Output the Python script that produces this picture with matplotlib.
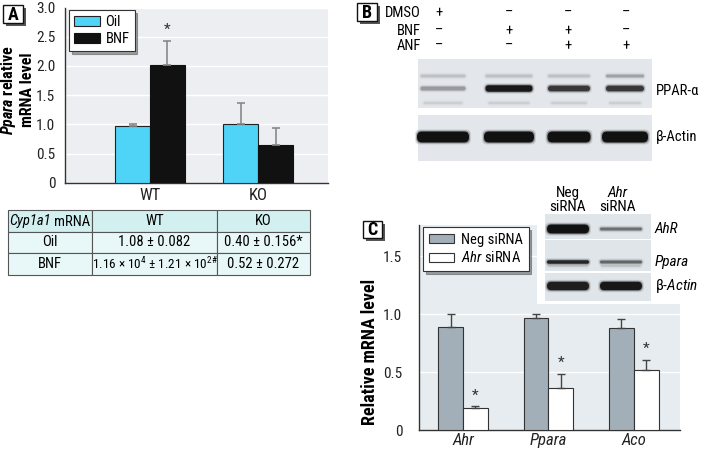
import numpy as np
import matplotlib
matplotlib.use("Agg")
import matplotlib.pyplot as plt
from matplotlib import font_manager
from matplotlib.patches import Rectangle, FancyBboxPatch

# pick the narrowest sans that is installed
installed = {f.name for f in font_manager.fontManager.ttflist}
condensed_dejavu = any(f.name == "DejaVu Sans" and str(f.stretch) == "condensed"
                       for f in font_manager.fontManager.ttflist)
if "Liberation Sans Narrow" in installed:
    FAM, STRETCH = "Liberation Sans Narrow", "normal"
elif "Roboto Condensed" in installed:
    FAM, STRETCH = "Roboto Condensed", "normal"
elif condensed_dejavu:
    FAM, STRETCH = "DejaVu Sans", "condensed"
else:
    FAM, STRETCH = "Liberation Sans", "normal"
NARROW = FAM != "Liberation Sans"
SC = 1.0 if NARROW else 0.88   # shrink text a little when no narrow face exists

plt.rcParams["font.family"] = [FAM, "DejaVu Sans"]
plt.rcParams["font.stretch"] = STRETCH
plt.rcParams["mathtext.fontset"] = "custom"
suffix = ":condensed" if STRETCH == "condensed" else ""
plt.rcParams["mathtext.rm"] = FAM + suffix
plt.rcParams["mathtext.it"] = FAM + ":italic" + suffix
plt.rcParams["mathtext.bf"] = FAM + ":bold" + suffix
plt.rcParams["mathtext.bfit"] = FAM + ":italic:bold" + suffix

# ---- panel A data
a_groups = ["WT", "KO"]
a_oil = [0.97, 1.00]
a_oil_err = [0.04, 0.37]
a_bnf = [2.02, 0.645]
a_bnf_err = [0.41, 0.30]
a_star_bnf = [True, False]

# table under panel A
tbl_header = ["", "WT", "KO"]
tbl_rows = [["Oil", "1.08 ± 0.082", "0.40 ± 0.156*"],
            ["BNF", r"1.16 × 10$^{4}$ ± 1.21 × 10$^{2\#}$", "0.52 ± 0.272"]]

# ---- panel B (western blot)
b_treat = ["DMSO", "BNF", "ANF"]
b_signs = [["+", "–", "–", "–"],
           ["–", "+", "+", "–"],
           ["–", "–", "+", "+"]]
b_ppar = [0.2, 1.0, 0.75, 0.75]
b_actin = [1.0, 1.0, 1.0, 1.0]

# ---- panel C data
c_genes = ["Ahr", "Ppara", "Aco"]
c_neg = [0.886, 0.966, 0.883]
c_neg_err = [0.114, 0.034, 0.074]
c_ahr = [0.186, 0.363, 0.52]
c_ahr_err = [0.017, 0.123, 0.086]

# inset blot (Neg siRNA, Ahr siRNA)
c_inset_rows = ["AhR", "Ppara", "β-Actin"]
c_inset_int = [[1.0, 0.45], [0.85, 0.5], [0.9, 0.95]]

W, H = 710, 450
fig = plt.figure(figsize=(W / 100, H / 100), dpi=100)


def fs(v):
    return v * SC


def px_axes(x0, y0, x1, y1):
    return fig.add_axes([x0 / W, 1 - y1 / H, (x1 - x0) / W, (y1 - y0) / H])


def style_axes(ax, bg):
    ax.set_facecolor(bg)
    for s in ["top", "right"]:
        ax.spines[s].set_visible(False)
    for s in ["left", "bottom"]:
        ax.spines[s].set_color("#333333")
        ax.spines[s].set_linewidth(1.0)
    ax.tick_params(length=0, labelsize=fs(11), colors="#222222")
    ax.yaxis.grid(True, color="white", linewidth=1.0)
    ax.set_axisbelow(True)


def fmt(v):
    return "0" if v == 0 else f"{v:.1f}"


# ================= panel A =================
axA = px_axes(65, 7.5, 328, 182.7)
style_axes(axA, "#eceef1")
xa = np.arange(len(a_groups))
wa = 0.324
ekw = dict(ecolor="#888888", elinewidth=1.2, capsize=3, capthick=1.2)
axA.bar(xa - wa / 2, a_oil, wa, color="#4fd3f6", edgecolor="#222222", linewidth=0.8,
        yerr=[np.zeros(2), a_oil_err], error_kw=ekw, label="Oil", zorder=3)
axA.bar(xa + wa / 2, a_bnf, wa, color="#111111", edgecolor="#111111", linewidth=0.8,
        yerr=[np.zeros(2), a_bnf_err], error_kw=ekw, label="BNF", zorder=3)
for i in range(len(a_groups)):
    if a_star_bnf[i]:
        axA.text(xa[i] + wa / 2, a_bnf[i] + a_bnf_err[i] + 0.06, "*", ha="center", va="bottom",
                 fontsize=11, color="#333333")
axA.set_xlim(-0.787, 1.648)
axA.set_ylim(0, 3.0)
axA.set_yticks(np.arange(0, 3.01, 0.5))
axA.set_yticklabels([fmt(v) for v in np.arange(0, 3.01, 0.5)])
axA.set_xticks(xa)
axA.set_xticklabels(a_groups, fontsize=fs(12))
axA.tick_params(axis="x", pad=4)
axA.tick_params(axis="y", pad=7)
leg = axA.legend(loc="upper left", bbox_to_anchor=(4 / 263, 1 - 2.5 / 175), borderaxespad=0,
                 fontsize=fs(10.5), handlelength=1.75, handleheight=0.65, frameon=True, fancybox=False,
                 shadow=True, edgecolor="#333333", framealpha=1, borderpad=0.35, labelspacing=0.2,
                 handletextpad=0.4)
leg.get_frame().set_linewidth(0.8)
fig.text(17 / W, 1 - 90 / H, r"$\mathbfit{Ppara}$ relative" + "\nmRNA level", rotation=90,
         ha="center", va="center", fontsize=fs(11.5), fontweight="bold", multialignment="center",
         linespacing=1.15)

# ================= panel C =================
axC = px_axes(419, 225, 680, 430)
style_axes(axC, "#e6ecf0")
xc = np.arange(len(c_genes))
wc = 0.29
ekw = dict(ecolor="#444444", elinewidth=1.0, capsize=3, capthick=1.0)
axC.bar(xc - wc / 2, c_neg, wc, color="#a2afb8", edgecolor="#333333", linewidth=0.8,
        yerr=[np.zeros(3), c_neg_err], error_kw=ekw, label="Neg siRNA", zorder=3)
axC.bar(xc + wc / 2, c_ahr, wc, color="white", edgecolor="#333333", linewidth=0.8,
        yerr=[np.zeros(3), c_ahr_err], error_kw=ekw, label=r"$\mathit{Ahr}$ siRNA", zorder=3)
for i in range(len(c_genes)):
    axC.text(xc[i] + wc / 2, c_ahr[i] + c_ahr_err[i] + 0.03, "*", ha="center", va="bottom",
             fontsize=11, color="#333333")
axC.set_xlim(-0.515, 2.54)
axC.set_ylim(0, 1.77)
axC.set_yticks([0, 0.5, 1.0, 1.5])
axC.set_yticklabels([fmt(v) for v in [0, 0.5, 1.0, 1.5]])
axC.set_xticks(xc)
axC.set_xticklabels(c_genes, fontsize=fs(12), style="italic")
axC.tick_params(axis="x", pad=2)
axC.tick_params(axis="y", pad=12)
leg = axC.legend(loc="upper left", bbox_to_anchor=(4 / 261, 1 - 2 / 205), borderaxespad=0,
                 fontsize=fs(10.5), handlelength=1.75, handleheight=0.55, frameon=True, fancybox=False,
                 shadow=True, edgecolor="#333333", framealpha=1, borderpad=0.4, labelspacing=0.25,
                 handletextpad=0.45)
leg.get_frame().set_linewidth(0.8)
fig.text(370 / W, 1 - 352 / H, "Relative mRNA level", rotation=90, ha="center", va="center",
         fontsize=fs(13), fontweight="bold")

# ================= overlay: labels, blots, table =================
ov = fig.add_axes([0, 0, 1, 1])
ov.set_xlim(0, W)
ov.set_ylim(H, 0)
ov.axis("off")
ov.patch.set_alpha(0)
ov.set_zorder(10)


def label_box(x, y, letter, w=20, h=18):
    ov.add_patch(Rectangle((x + 2.5, y + 2.5), w, h, facecolor="#555555", edgecolor="none"))
    ov.add_patch(Rectangle((x, y), w, h, facecolor="white", edgecolor="#111111", linewidth=1.0))
    ov.text(x + w / 2, y + h / 2 + 0.5, letter, ha="center", va="center", fontsize=13, fontweight="bold")


def band(xc_, yc_, w, h, alpha, color="#111111"):
    for k, a in [(2.0, 0.12), (1.0, 0.3), (0.0, 1.0)]:
        ov.add_patch(FancyBboxPatch((xc_ - w / 2 - k, yc_ - h / 2 - k), w + 2 * k, h + 2 * k,
                                    boxstyle=f"round,pad=0,rounding_size={min(h / 2 + k, 5)}",
                                    facecolor=color, edgecolor="none", alpha=alpha * a))


label_box(3, 5, "A")
label_box(357, 3, "B")
label_box(363, 221, "C", w=19, h=17)

# --- table
tb = ov.table(cellText=[tbl_header] + tbl_rows, cellLoc="center",
              colWidths=[84, 125, 93], bbox=[8 / W, 1 - 275 / H, 302 / W, 65 / H])
tb.auto_set_font_size(False)
for (r, c), cell in tb.get_celld().items():
    cell.set_facecolor("#d3f0f0" if r == 0 else "#e8f7f7")
    cell.set_edgecolor("#555555")
    cell.set_linewidth(0.8)
    cell.PAD = 0.02
    cell.get_text().set_fontsize(fs(10.5))
tb[2, 1].get_text().set_fontsize(fs(9.5))
ov.text(51, 221.5, "Cyp1a1", ha="right", va="center", fontsize=fs(10.5), style="italic")
ov.text(54, 221.5, "mRNA", ha="left", va="center", fontsize=fs(10.5))

# --- panel B blot
b_lane_x = [443, 509, 569, 625]
for r, name in enumerate(b_treat):
    yy = [13, 31, 46][r]
    ov.text(421, yy, name, ha="right", va="center", fontsize=fs(10.5))
    for j, s in enumerate(b_signs[r]):
        ov.text([439, 509, 568, 626][j], yy, s, ha="center", va="center", fontsize=10.5)
ov.add_patch(Rectangle((418, 59), 234, 49, facecolor="#e3e7eb", edgecolor="none"))
ov.add_patch(Rectangle((418, 115), 234, 46, facecolor="#e3e7eb", edgecolor="none"))
for j, xl in enumerate(b_lane_x):
    wl = [45, 47, 42, 38][j]
    band(xl, 88.5, wl, 3.5 + 3 * b_ppar[j], 0.85 * b_ppar[j] + 0.1)
    band(xl, 76, wl, 3, 0.12 + 0.12 * (j == 3))
    band(xl, 103, wl - 6, 2.5, 0.08)
    band(xl, 137, [52, 50, 43, 46][j], 11, b_actin[j])
ov.text(656, 91, "PPAR-α", ha="left", va="center", fontsize=fs(10.5))
ov.text(656, 137, "β-Actin", ha="left", va="center", fontsize=fs(10.5))

# --- panel C inset blot
ov.add_patch(Rectangle((537, 198), 173, 106, facecolor="white", edgecolor="none"))
c_lane_x = [568, 621]
ov.text(568, 193, "Neg", ha="center", va="center", fontsize=fs(11))
ov.text(618, 193, "Ahr", ha="center", va="center", fontsize=fs(11), style="italic")
ov.text(568, 207, "siRNA", ha="center", va="center", fontsize=fs(11))
ov.text(618, 207, "siRNA", ha="center", va="center", fontsize=fs(11))
strips = [(214, 239, 229), (240, 271, 262), (273, 301, 286)]
for r, (y0, y1, yb) in enumerate(strips):
    ov.add_patch(Rectangle((545, y0), 106, y1 - y0, facecolor="#e0e5e9", edgecolor="none"))
    for j, xl in enumerate(c_lane_x):
        inten = c_inset_int[r][j]
        if r == 0:
            h = 9 if j == 0 else 3
        elif r == 1:
            h = 3.5 if j == 0 else 3
        else:
            h = 8.5
        band(xl, yb, 42, h, inten)
    if r == 1:
        for xl in c_lane_x:
            band(xl, 266, 40, 2, 0.1)
    lbl = c_inset_rows[r]
    if lbl.startswith("β"):
        ov.text(655, yb, r"β-$\mathit{Actin}$", ha="left", va="center", fontsize=fs(11))
    else:
        ov.text(655, yb, lbl, ha="left", va="center", fontsize=fs(11), style="italic")

fig.savefig("out.png", dpi=100)
